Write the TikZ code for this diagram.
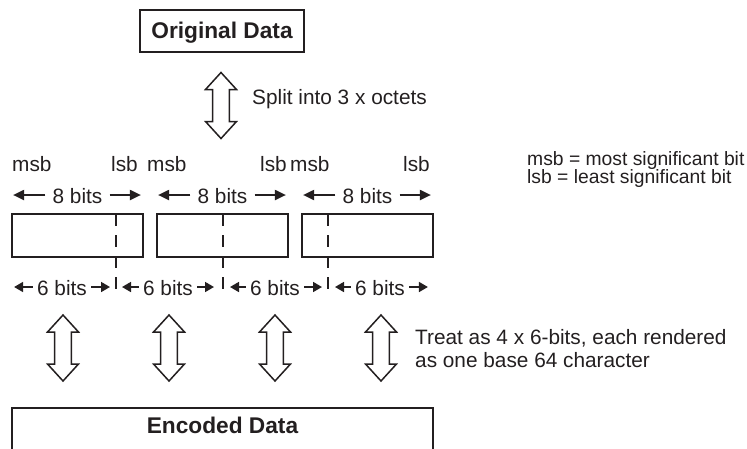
\documentclass[tikz,border=0pt]{standalone}
\usepackage{fontspec}
\setmainfont{Liberation Sans}
\usetikzlibrary{arrows.meta}
\definecolor{ink}{RGB}{35,31,32}
\begin{document}
\begin{tikzpicture}[x=1pt,y=-1pt,color=ink,
  lbl/.style={font=\fontsize{20.8}{23}\selectfont, inner sep=0pt, anchor=base, text=ink},
  lblw/.style={lbl, anchor=base west},
  lble/.style={lbl, anchor=base east},
  leg/.style={font=\fontsize{19.3}{21}\selectfont, inner sep=0pt, anchor=base west, text=ink},
  ttl/.style={font=\bfseries\fontsize{22.7}{25}\selectfont, inner sep=0pt, text=ink},
  bytebox/.style={draw=ink, line width=1.8pt, minimum width=131pt, minimum height=43pt, inner sep=0pt},
  bigbox/.style={draw=ink, line width=1.8pt, inner sep=0pt},
  splitline/.style={draw=ink, line width=2.4pt, dash pattern=on 12pt off 9pt},
  arr8/.style={draw=ink, line width=2pt, -{Triangle[length=11pt,width=10pt]}},
  arr6/.style={draw=ink, line width=1.7pt, -{Triangle[length=9pt,width=10pt]}},
  dblarrow/.pic={\draw[ink, line width=1.5pt, line join=miter, fill=white]
     (0,-33) -- (15.5,-16) -- (8.3,-16) -- (8.3,16) -- (15.5,16) -- (0,33)
     -- (-15.5,16) -- (-8.3,16) -- (-8.3,-16) -- (-15.5,-16) -- cycle;}
]
\useasboundingbox (0,0) rectangle (747,448);

% top box
\node[bigbox, minimum width=164pt, minimum height=42pt] (orig) at (222,31) {};
\node[ttl, anchor=base] (origtxt) at (222,38) {Original Data};

% split arrow
\pic at (221,105.5) {dblarrow};
\node[lblw] (split) at (252,104) {Split into 3 x octets};

% msb / lsb labels
\node[lblw] (msb1) at (12,171) {msb};
\node[lble] (lsb1) at (138,171) {lsb};
\node[lblw] (msb2) at (147,171) {msb};
\node[lble] (lsb2) at (287,171) {lsb};
\node[lblw] (msb3) at (290,171) {msb};
\node[lble] (lsb3) at (430,171) {lsb};

% legend
\node[leg] (leg1) at (527,165) {msb = most significant bit};
\node[leg] (leg2) at (527,183) {lsb = least significant bit};

% byte boxes
\node[bytebox] (b1) at (77.5,235.5) {};
\node[bytebox] (b2) at (222.5,235.5) {};
\node[bytebox] (b3) at (367.5,235.5) {};

% 8 bits labels and arrows
\coordinate (r8) at (0,195);
\node[lbl] (e1) at (77.5,203) {8 bits};
\node[lbl] (e2) at (222.5,203) {8 bits};
\node[lbl] (e3) at (367.5,203) {8 bits};
\foreach \i in {1,2,3}{
  \draw[arr8, shorten <=7pt, shorten >=2pt] (e\i.west |- r8) -- (b\i.west |- r8);
  \draw[arr8, shorten <=7pt, shorten >=3pt] (e\i.east |- r8) -- (b\i.east |- r8);
}

% dashed split lines
\coordinate (d1t) at (116,214); \coordinate (d1b) at (116,289);
\coordinate (d2t) at (223,214); \coordinate (d2b) at (223,289);
\coordinate (d3t) at (328,214); \coordinate (d3b) at (328,289);
\draw[splitline] (d1t) -- (d1b);
\draw[splitline] (d2t) -- (d2b);
\draw[splitline] (d3t) -- (d3b);

% 6 bits labels and arrows
\coordinate (r6) at (0,287);
\node[lbl] (s1) at (62,295) {6 bits};
\node[lbl] (s2) at (168,295) {6 bits};
\node[lbl] (s3) at (275,295) {6 bits};
\node[lbl] (s4) at (380,295) {6 bits};
\draw[arr6, shorten <=4pt, shorten >=3pt] (s1.west |- r6) -- (b1.west |- r6);
\draw[arr6, shorten <=4pt, shorten >=6pt] (s1.east |- r6) -- (d1t |- r6);
\draw[arr6, shorten <=4pt, shorten >=6pt] (s2.west |- r6) -- (d1t |- r6);
\draw[arr6, shorten <=4pt, shorten >=9pt] (s2.east |- r6) -- (d2t |- r6);
\draw[arr6, shorten <=4pt, shorten >=7pt] (s3.west |- r6) -- (d2t |- r6);
\draw[arr6, shorten <=4pt, shorten >=6pt] (s3.east |- r6) -- (d3t |- r6);
\draw[arr6, shorten <=4pt, shorten >=7pt] (s4.west |- r6) -- (d3t |- r6);
\draw[arr6, shorten <=4pt, shorten >=6pt] (s4.east |- r6) -- (b3.east |- r6);

% conversion arrows
\pic at (63,348) {dblarrow};
\pic at (169,348) {dblarrow};
\pic at (275,348) {dblarrow};
\pic at (381,348) {dblarrow};
\node[lblw] (treat1) at (415,344) {Treat as 4 x 6-bits, each rendered};
\node[lblw] (treat2) at (415,367) {as one base 64 character};

% bottom box
\node[bigbox, minimum width=421pt, minimum height=50pt] (enc) at (222.5,433) {};
\node[ttl, anchor=base] (enctxt) at (222.5,433) {Encoded Data};
\end{tikzpicture}
\end{document}
